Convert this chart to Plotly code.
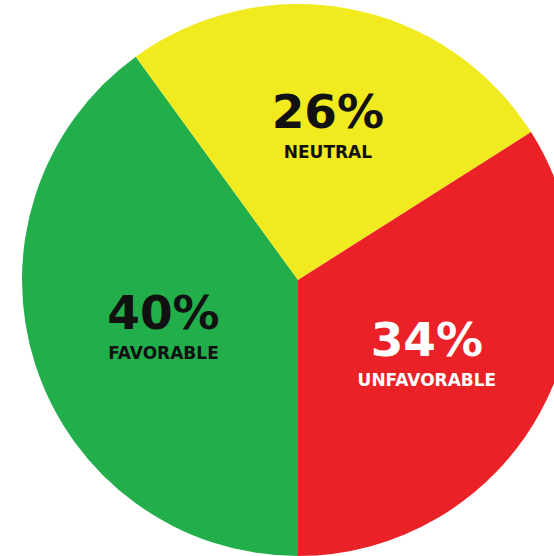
import plotly.graph_objects as go

labels = ["FAVORABLE", "NEUTRAL", "UNFAVORABLE"]
values = [40, 26, 34]
colors = ["#21AE4B", "#F1EA1F", "#EA2227"]
text_colors = ["#111111", "#111111", "#FFFFFF"]

W, H = 596, 560

fig = go.Figure(go.Pie(
    labels=labels,
    values=values,
    sort=False,
    direction="clockwise",
    rotation=180,
    marker=dict(colors=colors, line=dict(width=0)),
    texttemplate=("<span style='font-size:47px'>%{percent:.0%}</span><br>"
                  "<span style='font-size:17px'>%{label}</span>"),
    textposition="inside",
    insidetextorientation="horizontal",
    insidetextfont=dict(family="DejaVu Sans", size=23, color=text_colors, weight="bold"),
    hoverinfo="label+percent",
    showlegend=False,
    domain=dict(x=[0, 1], y=[4 / H, 1 - 4 / H]),
))

fig.update_layout(
    width=W, height=H,
    margin=dict(l=0, r=0, t=0, b=0),
    paper_bgcolor="white",
    plot_bgcolor="white",
)

fig.write_html(
    "out.html",
    config={"displayModeBar": False},
    post_script="document.body.style.margin='0';document.body.style.overflow='hidden';",
)
